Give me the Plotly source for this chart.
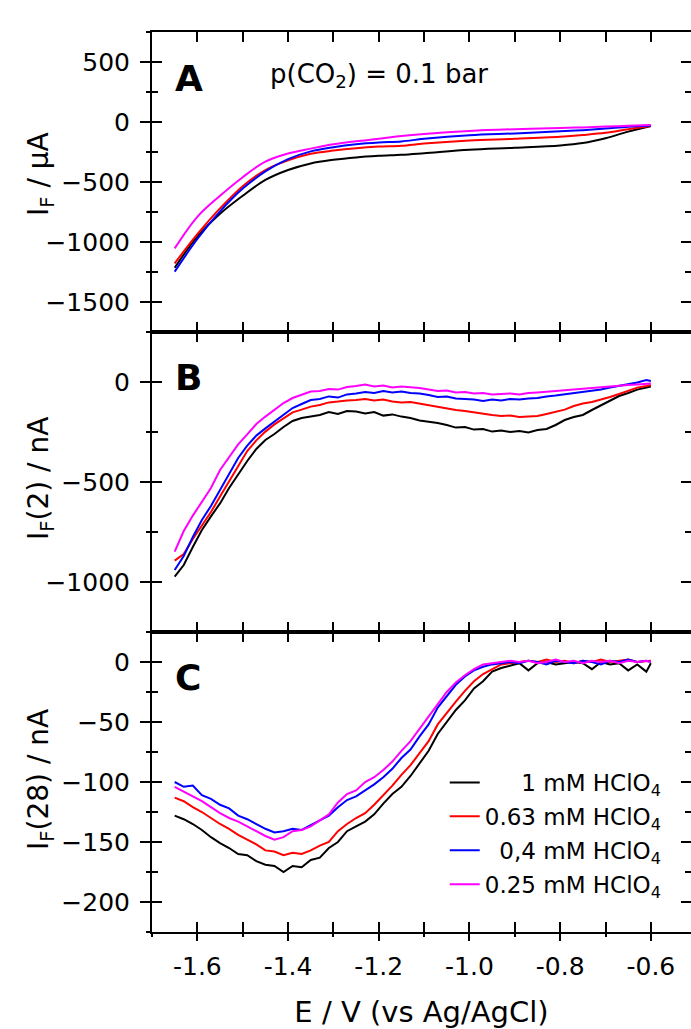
import plotly.graph_objects as go

# ---------------- data ----------------
series_names = ["1 mM HClO<sub>4</sub>", "0.63 mM HClO<sub>4</sub>",
                "0,4 mM HClO<sub>4</sub>", "0.25 mM HClO<sub>4</sub>"]
legend_pad = [5, 0, 2, 0]
colors = ["#000000", "#ff0000", "#0000ff", "#ff00ff"]

# Panel A (smooth currents, µA)
E_a = [-1.65, -1.60, -1.55, -1.50, -1.45, -1.40, -1.35, -1.30, -1.25, -1.20,
       -1.15, -1.10, -1.00, -0.90, -0.80, -0.75, -0.70, -0.65, -0.60]
a_black = [-1215, -955, -765, -615, -483, -400, -345, -315, -295, -282,
           -273, -260, -232, -215, -195, -175, -135, -80, -33]
a_red = [-1178, -935, -720, -535, -400, -320, -265, -238, -218, -205,
         -198, -180, -155, -140, -122, -108, -90, -60, -33]
a_blue = [-1247, -975, -745, -555, -412, -310, -245, -210, -185, -170,
          -162, -140, -110, -95, -78, -68, -55, -40, -31]
a_magenta = [-1053, -790, -615, -460, -330, -262, -222, -185, -160, -140,
             -117, -100, -75, -60, -50, -45, -38, -32, -25]

# Panels B and C share this potential grid (V vs Ag/AgCl)
E_bc = [-1.65, -1.63, -1.61, -1.59, -1.57, -1.55, -1.53, -1.51, -1.49, -1.47,
        -1.45, -1.43, -1.41, -1.39, -1.37, -1.35, -1.33, -1.31, -1.29, -1.27,
        -1.25, -1.23, -1.21, -1.19, -1.17, -1.15, -1.13, -1.11, -1.09, -1.07,
        -1.05, -1.03, -1.01, -0.99, -0.97, -0.95, -0.93, -0.91, -0.89, -0.87,
        -0.85, -0.83, -0.81, -0.79, -0.77, -0.75, -0.73, -0.71, -0.69, -0.67,
        -0.65, -0.63, -0.61, -0.60]

# Panel B: I_F(2) / nA
b_black = [-973, -915, -825, -740, -672, -607, -530, -460, -395, -335,
           -290, -260, -225, -195, -180, -173, -165, -150, -160, -145,
           -148, -158, -150, -168, -162, -173, -180, -192, -198, -205,
           -215, -228, -225, -238, -235, -248, -242, -250, -245, -252,
           -240, -235, -215, -190, -175, -165, -140, -118, -95, -70,
           -55, -38, -28, -23]
b_red = [-893, -860, -785, -715, -650, -573, -498, -420, -345, -292,
         -248, -212, -180, -152, -138, -123, -115, -102, -98, -92,
         -90, -85, -92, -88, -98, -103, -100, -108, -115, -125,
         -130, -140, -145, -152, -160, -165, -170, -168, -175, -172,
         -170, -160, -150, -138, -120, -108, -100, -88, -75, -60,
         -45, -28, -20, -15]
b_blue = [-940, -870, -775, -690, -620, -540, -465, -380, -318, -268,
          -232, -198, -160, -130, -110, -90, -85, -72, -78, -62,
          -57, -50, -55, -45, -52, -48, -55, -58, -65, -75,
          -72, -82, -85, -88, -95, -88, -92, -85, -88, -82,
          -80, -72, -68, -62, -55, -50, -45, -38, -28, -20,
          -12, -2, 10, 5]
b_magenta = [-848, -745, -668, -600, -530, -440, -375, -312, -262, -210,
             -173, -140, -105, -80, -62, -48, -45, -35, -38, -25,
             -20, -12, -22, -18, -28, -23, -26, -30, -38, -45,
             -42, -52, -50, -58, -55, -62, -60, -57, -62, -55,
             -52, -48, -45, -40, -38, -32, -30, -25, -22, -18,
             -15, -12, -10, -7]

# Panel C: I_F(28) / nA
c_black = [-128, -131, -135, -140, -146, -151, -155, -160, -161, -166,
           -169, -170, -175, -170, -171, -165, -163, -155, -150, -141,
           -137, -133, -127, -118, -110, -104, -95, -85, -74, -60,
           -50, -40, -32, -22, -16, -8, -5, -3, -1, -7,
           -1, 0, -2, -1, 0, -1, -6, 0, -2, -1,
           -7, -2, -8, -1]
c_red = [-113, -116, -121, -125, -130, -135, -139, -144, -148, -152,
         -157, -158, -161, -159, -160, -157, -153, -150, -141, -135,
         -130, -126, -119, -111, -103, -94, -86, -76, -66, -52,
         -42, -33, -24, -16, -10, -6, -2, -1, 0, 1,
         0, 2, 0, 1, -1, 1, 0, 2, 0, 1,
         2, 0, 1, 1]
c_blue = [-100, -104, -103, -111, -114, -119, -122, -128, -131, -135,
          -139, -142, -141, -139, -140, -136, -132, -128, -121, -115,
          -112, -107, -102, -96, -89, -80, -73, -62, -52, -38,
          -28, -19, -12, -7, -4, -2, -1, 0, -1, 1,
          0, -2, 1, 0, -1, 1, 0, -2, 1, 0,
          2, 0, 1, 0]
c_magenta = [-104, -108, -112, -116, -121, -126, -130, -133, -137, -141,
             -145, -148, -146, -141, -140, -137, -132, -127, -117, -110,
             -107, -100, -96, -90, -83, -74, -66, -56, -46, -35,
             -25, -17, -11, -6, -2, -1, 0, 1, 0, 1,
             -1, 0, 2, 0, 1, -1, 1, 0, 1, -1,
             1, 0, 1, 0]

x_tickvals = [-1.6, -1.4, -1.2, -1.0, -0.8, -0.6]
x_ticktext = ["-1.6", "-1.4", "-1.2", "-1.0", "-0.8", "-0.6"]

# ---------------- figure ----------------
W, H = 691, 1029
ML, MR, MT, MB = 152, 0, 32, 97
PW, PH = W - ML - MR, H - MT - MB
FONT = "DejaVu Sans"
XR = [-1.7, -0.5115]
LW = 2

fig = go.Figure()

panels = [
    ("x", "y", E_a, [a_black, a_red, a_blue, a_magenta], "spline"),
    ("x2", "y2", E_bc, [b_black, b_red, b_blue, b_magenta], "linear"),
    ("x3", "y3", E_bc, [c_black, c_red, c_blue, c_magenta], "linear"),
]
for pi, (xa, ya, ex, ser, shape) in enumerate(panels):
    for si, vals in enumerate(ser):
        fig.add_trace(go.Scatter(
            x=ex, y=vals, mode="lines", xaxis=xa, yaxis=ya,
            line=dict(color=colors[si], width=2, shape=shape),
            name="\u00a0" * legend_pad[si] + series_names[si],
            legendgroup="g%d" % si,
            showlegend=(pi == 2), hoverinfo="skip"))

# empty traces registering the decorative overlay axes
for xa, ya in [("x", "y4"), ("x", "y5"), ("x2", "y6"), ("x2", "y7"),
               ("x3", "y8"), ("x3", "y9"), ("x4", "y3")]:
    fig.add_trace(go.Scatter(x=[], y=[], xaxis=xa, yaxis=ya,
                             showlegend=False, hoverinfo="skip"))

tickfont = dict(family=FONT, size=25, color="black")
titlefont = dict(family=FONT, size=28, color="black")

def xax(anchor):
    return dict(domain=[0, 1], anchor=anchor, range=XR, showgrid=False,
                zeroline=False, showline=True, linewidth=LW, linecolor="black",
                mirror="allticks", ticks="inside", ticklen=10, tickwidth=2,
                tickcolor="black", tickvals=x_tickvals, showticklabels=False,
                minor=dict(ticks="inside", ticklen=6, tickwidth=2,
                           tickcolor="black", dtick=0.1, tick0=-0.6))

dom = {"y": [2/3, 1], "y2": [1/3, 2/3], "y3": [0, 1/3]}
yranges = {"y": [-1750, 750], "y2": [-1250, 250], "y3": [-225, 25]}
ydticks = {"y": (500, 250), "y2": (500, 250), "y3": (50, 25)}
ytitles = {"y": "I<sub>F</sub> / μA", "y2": "I<sub>F</sub>(2) / nA",
           "y3": "I<sub>F</sub>(28) / nA"}
ytitle_ypx = {"y": 174, "y2": 478, "y3": 779}
xanch = {"y": "x", "y2": "x2", "y3": "x3"}
overlays = {"y": ("yaxis4", "yaxis5"), "y2": ("yaxis6", "yaxis7"),
            "y3": ("yaxis8", "yaxis9")}

layout = dict(
    width=W, height=H, margin=dict(l=ML, r=MR, t=MT, b=MB),
    paper_bgcolor="white", plot_bgcolor="white",
    font=dict(family=FONT, color="black"),
    xaxis=xax("y"), xaxis2=xax("y2"), xaxis3=xax("y3"),
    xaxis4=dict(overlaying="x3", anchor="y3", side="bottom", range=XR,
                showgrid=False, zeroline=False, showline=False,
                ticks="outside", ticklen=8, tickwidth=2, tickcolor="black",
                tickvals=x_tickvals, ticktext=x_ticktext, tickfont=tickfont,
                ticklabelstandoff=4,
                minor=dict(ticks="outside", ticklen=4, tickwidth=2,
                           tickcolor="black", dtick=0.1, tick0=-0.6),
                title=dict(text="E / V (vs Ag/AgCl)",
                           font=dict(family=FONT, size=29, color="black"),
                           standoff=24)),
)

for key in ["y", "y2", "y3"]:
    name = "yaxis" if key == "y" else "yaxis" + key[1:]
    dt, mdt = ydticks[key]
    layout[name] = dict(
        domain=dom[key], anchor=xanch[key], range=yranges[key],
        showgrid=False, zeroline=False, showline=True, linewidth=LW,
        linecolor="black", ticks="outside", ticklen=10, tickwidth=2,
        tickcolor="black", tick0=0, dtick=dt, tickfont=tickfont,
        ticklabelstandoff=5,
        minor=dict(ticks="outside", ticklen=4, tickwidth=2, tickcolor="black",
                   dtick=mdt, tick0=0))
    left_name, right_name = overlays[key]
    for oname, side in [(left_name, "left"), (right_name, "right")]:
        layout[oname] = dict(
            overlaying=key, anchor=xanch[key], side=side, range=yranges[key],
            showgrid=False, zeroline=False, showline=False,
            ticks="inside", ticklen=10, tickwidth=2, tickcolor="black",
            tick0=0, dtick=dt, showticklabels=False,
            minor=dict(ticks="inside", ticklen=6, tickwidth=2,
                       tickcolor="black", dtick=mdt, tick0=0))

layout["legend"] = dict(
    x=0.955, xanchor="right", y=0.19, yanchor="top",
    bgcolor="rgba(0,0,0,0)", borderwidth=0,
    font=dict(family=FONT, size=23, color="black"),
    tracegroupgap=1, itemwidth=30)

annotations = []
# y-axis titles (rotated), placed at the reference positions
for key in ["y", "y2", "y3"]:
    annotations.append(dict(
        text=ytitles[key], textangle=-90, xref="paper", yref="paper",
        x=(40 - ML) / PW, y=(H - MB - ytitle_ypx[key]) / PH,
        xanchor="center", yanchor="middle", showarrow=False,
        font=titlefont))
for txt, ypx in [("A", 78), ("B", 377), ("C", 677)]:
    annotations.append(dict(
        text="<b>%s</b>" % txt, xref="paper", yref="paper",
        x=(173 - ML) / PW, y=(H - MB - ypx) / PH,
        xanchor="left", yanchor="middle", showarrow=False,
        font=dict(family=FONT, size=36, color="black")))
annotations.append(dict(
    text="p(CO<sub>2</sub>) = 0.1 bar", xref="paper", yref="paper",
    x=(268 - ML) / PW, y=(H - MB - 76) / PH,
    xanchor="left", yanchor="middle", showarrow=False,
    font=dict(family=FONT, size=26, color="black")))
layout["annotations"] = annotations

fig.update_layout(**layout)
fig.write_html("out.html")
